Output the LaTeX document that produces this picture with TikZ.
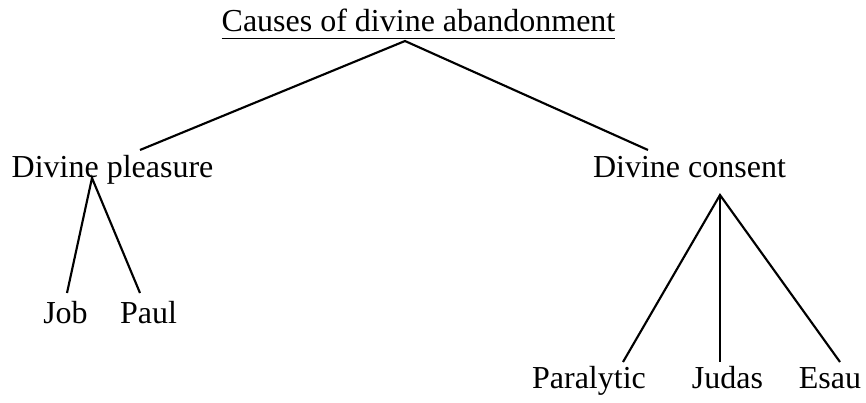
\documentclass[tikz,border=0pt]{standalone}
\usepackage{fontspec}
\setmainfont{Liberation Serif}
\usepackage{tikz}

\begin{document}
\begin{tikzpicture}[
    x=0.375pt, y=-0.375pt,
    lbl/.style={anchor=base, inner sep=0pt, font=\fontsize{12}{14}\selectfont},
    branch/.style={line width=0.8pt}
]
\useasboundingbox (0,0) rectangle (866,403);

% labels
\node[lbl] (title) at (418.5, 32) {\underline{Causes of divine abandonment\rule[-1pt]{0pt}{1pt}}};
\node[lbl] (pleasure) at (112.5, 178) {Divine pleasure};
\node[lbl] (consent) at (689.5, 178) {Divine consent};
\node[lbl] (job) at (65.5, 323) {Job};
\node[lbl] (paul) at (148.5, 323) {Paul};
\node[lbl] (paralytic) at (589, 388) {Paralytic};
\node[lbl] (judas) at (727.5, 388) {Judas};
\node[lbl] (esau) at (830, 388) {Esau};

% branch points
\coordinate (root) at (405, 41);
\coordinate (pleasure-in) at (140, 150);
\coordinate (consent-in) at (648, 150);
\coordinate (pleasure-out) at (92, 178);
\coordinate (consent-out) at (720, 195);
\coordinate (job-in) at (67, 293);
\coordinate (paul-in) at (140, 293);
\coordinate (paralytic-in) at (623, 362);
\coordinate (judas-in) at (720, 362);
\coordinate (esau-in) at (840, 362);

\draw[branch] (pleasure-in) -- (root) -- (consent-in);
\draw[branch] (job-in) -- (pleasure-out) -- (paul-in);
\draw[branch] (paralytic-in) -- (consent-out) -- (esau-in);
\draw[branch] (consent-out) -- (judas-in);

\end{tikzpicture}
\end{document}
